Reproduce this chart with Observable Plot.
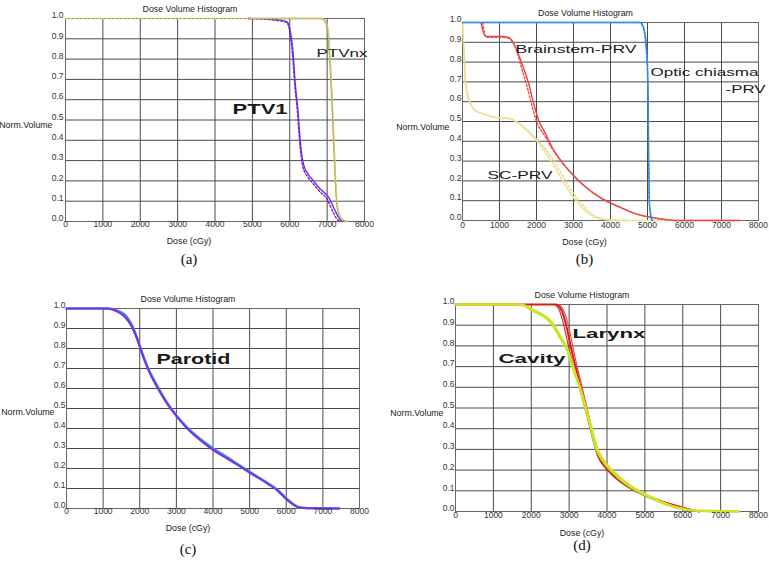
<!DOCTYPE html>
<html>
<head>
<meta charset="utf-8">
<script src="https://cdn.jsdelivr.net/npm/d3@7"></script>
<script src="https://cdn.jsdelivr.net/npm/@observablehq/plot@0.6"></script>
<style>
  html, body { margin: 0; padding: 0; background: #fff; }
  #fig { position: relative; width: 769px; height: 561px; background: #fff; overflow: hidden; }
  .panel { position: absolute; }
</style>
</head>
<body>
<div id="fig"></div>
<script>
// ---------- shared ticks ----------
const doseTicks = [0, 1000, 2000, 3000, 4000, 5000, 6000, 7000, 8000];
const volTicks = [0, 0.1, 0.2, 0.3, 0.4, 0.5, 0.6, 0.7, 0.8, 0.9, 1.0];
const panelTitle = "Dose Volume Histogram";
const xTitle = "Dose (cGy)";
const yTitle = "Norm.Volume";
const captions = ["(a)", "(b)", "(c)", "(d)"];

// ---------- panel (a) ----------
const ptv1Dose  = [4900, 5390, 5700, 5925, 6013, 6085, 6147, 6218, 6280, 6370, 6503, 6637, 6815, 7038, 7172, 7305, 7395];
const ptv1Vol   = [1, 0.997, 0.993, 0.985, 0.94, 0.84, 0.68, 0.55, 0.40, 0.28, 0.23, 0.20, 0.16, 0.12, 0.07, 0.02, 0];
const ptv1bDose = [4900, 5390, 5700, 5925, 6000, 6070, 6135, 6205, 6265, 6350, 6480, 6610, 6790, 7000, 7125, 7250, 7345];
const ptv1bVol  = [1, 0.996, 0.99, 0.98, 0.935, 0.83, 0.67, 0.54, 0.39, 0.27, 0.22, 0.19, 0.15, 0.11, 0.06, 0.015, 0];
const ptvnxDose  = [5000, 6860, 6950, 7020, 7082, 7127, 7172, 7216, 7260, 7350, 7483, 7528];
const ptvnxVol   = [1, 1, 0.985, 0.93, 0.76, 0.6, 0.4, 0.22, 0.085, 0.02, 0.003, 0];
const ptvnxbDose = [0, 6880, 6965, 7035, 7095, 7140, 7185, 7228, 7272, 7365, 7495, 7540];
const ptvnxbVol  = [1, 1, 0.985, 0.93, 0.76, 0.6, 0.4, 0.22, 0.085, 0.02, 0.003, 0];
const labelsA = [
  {text: "PTV1", dose: 5205, vol: 0.552},
  {text: "PTVnx", dose: 7399, vol: 0.828}
];

// ---------- panel (b) ----------
const opticDose  = [0, 4805, 4895, 4967, 5003, 5021, 5030, 5048, 5075, 5120];
const opticVol   = [1, 1, 0.975, 0.89, 0.77, 0.6, 0.35, 0.1, 0.035, 0];
const opticbDose = [0, 4780, 4880, 4950, 4992, 5012, 5026, 5046, 5090, 5140];
const opticbVol  = [1, 1, 0.975, 0.89, 0.77, 0.6, 0.35, 0.1, 0.035, 0];
const brainDose  = [500, 621, 800, 1071, 1251, 1431, 1611, 1791, 1926, 2061, 2241, 2421, 2691, 2960, 3320, 3770, 4220, 4670, 5120, 5570, 5750, 7500];
const brainVol   = [1, 0.93, 0.93, 0.93, 0.925, 0.875, 0.79, 0.69, 0.59, 0.505, 0.44, 0.37, 0.295, 0.235, 0.17, 0.11, 0.07, 0.035, 0.015, 0.003, 0, 0];
const brainbDose = [540, 650, 1100, 1300, 1450, 1580, 1740, 1880, 2000, 2200, 2400, 2680, 2960, 3320, 3770, 4220, 4670, 5120, 5570, 5800];
const brainbVol  = [1, 0.925, 0.925, 0.915, 0.865, 0.78, 0.68, 0.58, 0.5, 0.435, 0.37, 0.295, 0.235, 0.17, 0.11, 0.07, 0.035, 0.015, 0.003, 0];
const scDose  = [0, 36, 81, 171, 351, 621, 891, 1251, 1521, 1791, 2061, 2331, 2601, 2871, 3141, 3410, 3680, 3950, 4400, 7500];
const scVol   = [1, 0.86, 0.69, 0.61, 0.555, 0.535, 0.52, 0.515, 0.49, 0.445, 0.39, 0.32, 0.235, 0.15, 0.085, 0.035, 0.01, 0.003, 0, 0];
const scbDose = [0, 40, 90, 180, 360, 630, 900, 1260, 1540, 1820, 2110, 2400, 2680, 2950, 3220, 3480, 3750, 4000, 4450];
const scbVol  = [1, 0.86, 0.69, 0.61, 0.555, 0.535, 0.52, 0.515, 0.49, 0.445, 0.39, 0.32, 0.235, 0.15, 0.085, 0.035, 0.01, 0.003, 0];
const labelsB = [
  {text: "Brainstem-PRV", dose: 3068, vol: 0.864},
  {text: "Optic chiasma", dose: 6541, vol: 0.747},
  {text: "-PRV", dose: 7650, vol: 0.662},
  {text: "SC-PRV", dose: 1554, vol: 0.227}
];

// ---------- panel (c) ----------
const parotidDose  = [0, 1111, 1385, 1613, 1795, 1931, 2023, 2205, 2478, 2752, 3025, 3298, 3663, 4027, 4392, 4756, 5121, 5485, 5758, 6032, 6214, 6351, 6578, 7444];
const parotidVol   = [1, 1, 0.985, 0.955, 0.905, 0.847, 0.797, 0.706, 0.606, 0.523, 0.457, 0.4, 0.34, 0.29, 0.25, 0.208, 0.166, 0.125, 0.091, 0.042, 0.017, 0.005, 0.002, 0];
const parotidbVol  = [1, 1, 0.99, 0.966, 0.915, 0.85, 0.80, 0.712, 0.614, 0.528, 0.46, 0.404, 0.346, 0.298, 0.256, 0.212, 0.17, 0.128, 0.094, 0.046, 0.019, 0.006, 0.002, 0];
const labelsC = [
  {text: "Parotid", dose: 3467, vol: 0.745}
];

// ---------- panel (d) ----------
const cavityDose  = [0, 1718, 2026, 2291, 2511, 2731, 2952, 3128, 3304, 3436, 3568, 3700, 3877, 4141, 4493, 4846, 5198, 5639, 6079, 6520, 7489];
const cavityVol   = [1, 1, 0.971, 0.947, 0.915, 0.85, 0.778, 0.68, 0.585, 0.497, 0.408, 0.312, 0.248, 0.191, 0.135, 0.095, 0.063, 0.03, 0.01, 0.003, 0];
const cavitybDose = [0, 1750, 2060, 2320, 2540, 2760, 2975, 3150, 3320, 3460, 3600, 3740, 3920, 4200, 4560, 4920, 5280, 5700, 6120, 6550, 7489];
const cavitybVol  = [1, 1, 0.975, 0.952, 0.92, 0.855, 0.78, 0.68, 0.585, 0.497, 0.408, 0.312, 0.248, 0.191, 0.135, 0.095, 0.063, 0.03, 0.01, 0.003, 0];
const larynxDose  = [0, 2643, 2775, 2863, 2952, 3040, 3128, 3260, 3392, 3524, 3656, 3789, 3965, 4229, 4581, 5022, 5462, 5903, 6256, 6432];
const larynxVol   = [1, 1, 0.98, 0.94, 0.875, 0.80, 0.73, 0.633, 0.537, 0.44, 0.344, 0.264, 0.215, 0.167, 0.12, 0.079, 0.047, 0.023, 0.006, 0];
const larynxbDose = [0, 2600, 2720, 2800, 2890, 2980, 3080, 3220, 3360, 3500, 3630, 3760, 3930, 4180, 4520, 4950, 5400, 5850, 6200, 6400];
const larynxbVol  = [1, 1, 0.98, 0.94, 0.875, 0.80, 0.73, 0.633, 0.537, 0.44, 0.344, 0.264, 0.215, 0.167, 0.12, 0.079, 0.047, 0.023, 0.006, 0];
const larynxcDose = [0, 2700, 2830, 2920, 3010, 3095, 3175, 3300, 3425, 3550, 3680, 3810, 3990, 4260, 4620, 5070, 5510, 5950, 6300, 6460];
const larynxcVol  = [1, 1, 0.98, 0.94, 0.875, 0.80, 0.73, 0.633, 0.537, 0.44, 0.344, 0.264, 0.215, 0.167, 0.12, 0.079, 0.047, 0.023, 0.006, 0];
const labelsD = [
  {text: "Larynx", dose: 4052, vol: 0.86},
  {text: "Cavity", dose: 2020, vol: 0.739}
];

// ---------- styling ----------
const SANS = "'Liberation Sans', Arial, sans-serif";
const SERIF = "'Liberation Serif', 'Times New Roman', serif";
const GRID = "#4a4a4a";
const labelStyle = {
  "PTV1": {size: 15, weight: "bold", width: 55},
  "PTVnx": {size: 11, weight: "normal", width: 51},
  "Brainstem-PRV": {size: 11, weight: "normal", width: 121},
  "Optic chiasma": {size: 11, weight: "normal", width: 108},
  "-PRV": {size: 11, weight: "normal", width: 40},
  "SC-PRV": {size: 11, weight: "normal", width: 65},
  "Parotid": {size: 15, weight: "bold", width: 74},
  "Larynx": {size: 13, weight: "bold", width: 73},
  "Cavity": {size: 13, weight: "bold", width: 67}
};

function curve(dose, vol, stroke, opts = {}) {
  return Plot.line(dose, {x: dose, y: vol, stroke, strokeWidth: 1.4, curve: "monotone-x", ...opts});
}

function panel(cfg) {
  const marks = [
    Plot.ruleX(doseTicks, {stroke: GRID, strokeWidth: 1}),
    Plot.ruleY(volTicks, {stroke: GRID, strokeWidth: 1}),
    Plot.frame({stroke: "#666"}),
    ...cfg.lines,
    // y tick labels
    Plot.text(volTicks, {y: d => d, frameAnchor: "left", text: d => d3.format(".1f")(d), textAnchor: "end", dx: cfg.ytdx, dy: -3, fontSize: 8.5, fill: "#333", fontFamily: SANS}),
    // x tick labels
    Plot.text(doseTicks, {x: d => d, frameAnchor: "bottom", text: d => String(d), dy: cfg.xtdy, fontSize: 8.5, fill: "#333", fontFamily: SANS}),
    // titles
    Plot.text([panelTitle], {frameAnchor: "top", text: d => d, dx: -25, dy: -13, fontSize: 8.8, fill: "#222", fontFamily: SANS}),
    Plot.text([xTitle], {frameAnchor: "bottom", text: d => d, dx: cfg.xldx, dy: cfg.xldy, fontSize: 8.8, fill: "#222", fontFamily: SANS}),
    Plot.text([yTitle], {frameAnchor: "left", text: d => d, textAnchor: "end", dx: cfg.yldx, dy: cfg.yldy, fontSize: 8.8, fill: "#222", fontFamily: SANS}),
    Plot.text([cfg.caption], {frameAnchor: "bottom", text: d => d, dx: cfg.xldx, dy: cfg.capdy, fontSize: 15, fill: "#111", fontFamily: SERIF}),
    // curve labels
    Plot.text(cfg.labels, {x: "dose", y: "vol", text: "text", fill: "#1a1a1a", fontFamily: SANS,
      fontSize: d => labelStyle[d.text].size, fontWeight: "bold"})
  ];
  const svg = Plot.plot({
    width: cfg.width, height: cfg.height,
    marginTop: cfg.m[0], marginRight: cfg.m[1], marginBottom: cfg.m[2], marginLeft: cfg.m[3],
    x: {domain: [0, 8000], axis: null},
    y: {domain: [0, 1], axis: null},
    style: {background: "transparent", overflow: "visible", fontFamily: SANS},
    marks
  });
  // per-label weight and stretched width (as in the original screenshot fonts)
  d3.select(svg).selectAll("text").each(function() {
    const st = labelStyle[this.textContent];
    if (st) {
      d3.select(this).attr("font-weight", st.weight).style("font-weight", st.weight).attr("font-size", st.size)
        .attr("textLength", st.width).attr("lengthAdjust", "spacingAndGlyphs");
    }
  });
  const div = document.createElement("div");
  div.className = "panel";
  div.style.left = cfg.left + "px";
  div.style.top = cfg.top + "px";
  div.appendChild(svg);
  document.getElementById("fig").appendChild(div);
}

const dotted = {strokeDasharray: "2,2"};

panel({
  left: 0, top: 0, width: 385, height: 280, m: [18, 21, 59, 65],
  ytdx: -2, xtdy: 5, xldx: -26, xldy: 22, yldx: -13, yldy: 5, capdy: 42, caption: captions[0],
  labels: labelsA,
  lines: [
    curve(ptv1Dose, ptv1Vol, "#7b2fe3"),
    curve(ptv1bDose, ptv1bVol, "#6a28d0", dotted),
    curve(ptvnxDose, ptvnxVol, "#a6a44a"),
    curve(ptvnxbDose, ptvnxbVol, "#d2c868", dotted)
  ]
});

panel({
  left: 385, top: 0, width: 384, height: 280, m: [22, 11, 60, 77],
  ytdx: -1, xtdy: 7, xldx: -26, xldy: 24, yldx: -13, yldy: 6, capdy: 43, caption: captions[1],
  labels: labelsB,
  lines: [
    curve(scDose, scVol, "#eee39a", {strokeWidth: 1.6}),
    curve(scbDose, scbVol, "#e8dc8a", dotted),
    curve(brainDose, brainVol, "#e84040"),
    curve(brainbDose, brainbVol, "#e05050", dotted),
    curve(opticDose, opticVol, "#2f86e6"),
    curve(opticbDose, opticbVol, "#3a8ee8", dotted)
  ]
});

panel({
  left: 0, top: 280, width: 385, height: 281, m: [28, 26, 53, 66],
  ytdx: -1, xtdy: 5, xldx: -25, xldy: 22, yldx: -12, yldy: 4, capdy: 45, caption: captions[2],
  labels: labelsC,
  lines: [
    curve(parotidDose, parotidbVol, "#3c9ae8", {strokeWidth: 2.4}),
    curve(parotidDose, parotidVol, "#7a35e0", {strokeWidth: 2.2})
  ]
});

panel({
  left: 385, top: 280, width: 384, height: 281, m: [24, 11, 50, 70],
  ytdx: -1, xtdy: 6, xldx: -25, xldy: 24, yldx: -12, yldy: 5, capdy: 38, caption: captions[3],
  labels: labelsD,
  lines: [
    curve(larynxbDose, larynxbVol, "#b03a3a", {strokeWidth: 1.1}),
    curve(larynxcDose, larynxcVol, "#e84a4a", {strokeWidth: 1.1}),
    curve(larynxDose, larynxVol, "#e01818", {strokeWidth: 2}),
    curve(cavityDose, cavityVol, "#b4ee1e", {strokeWidth: 2.6}),
    curve(cavitybDose, cavitybVol, "#e6d830", {strokeWidth: 1.3})
  ]
});
</script>
</body>
</html>
